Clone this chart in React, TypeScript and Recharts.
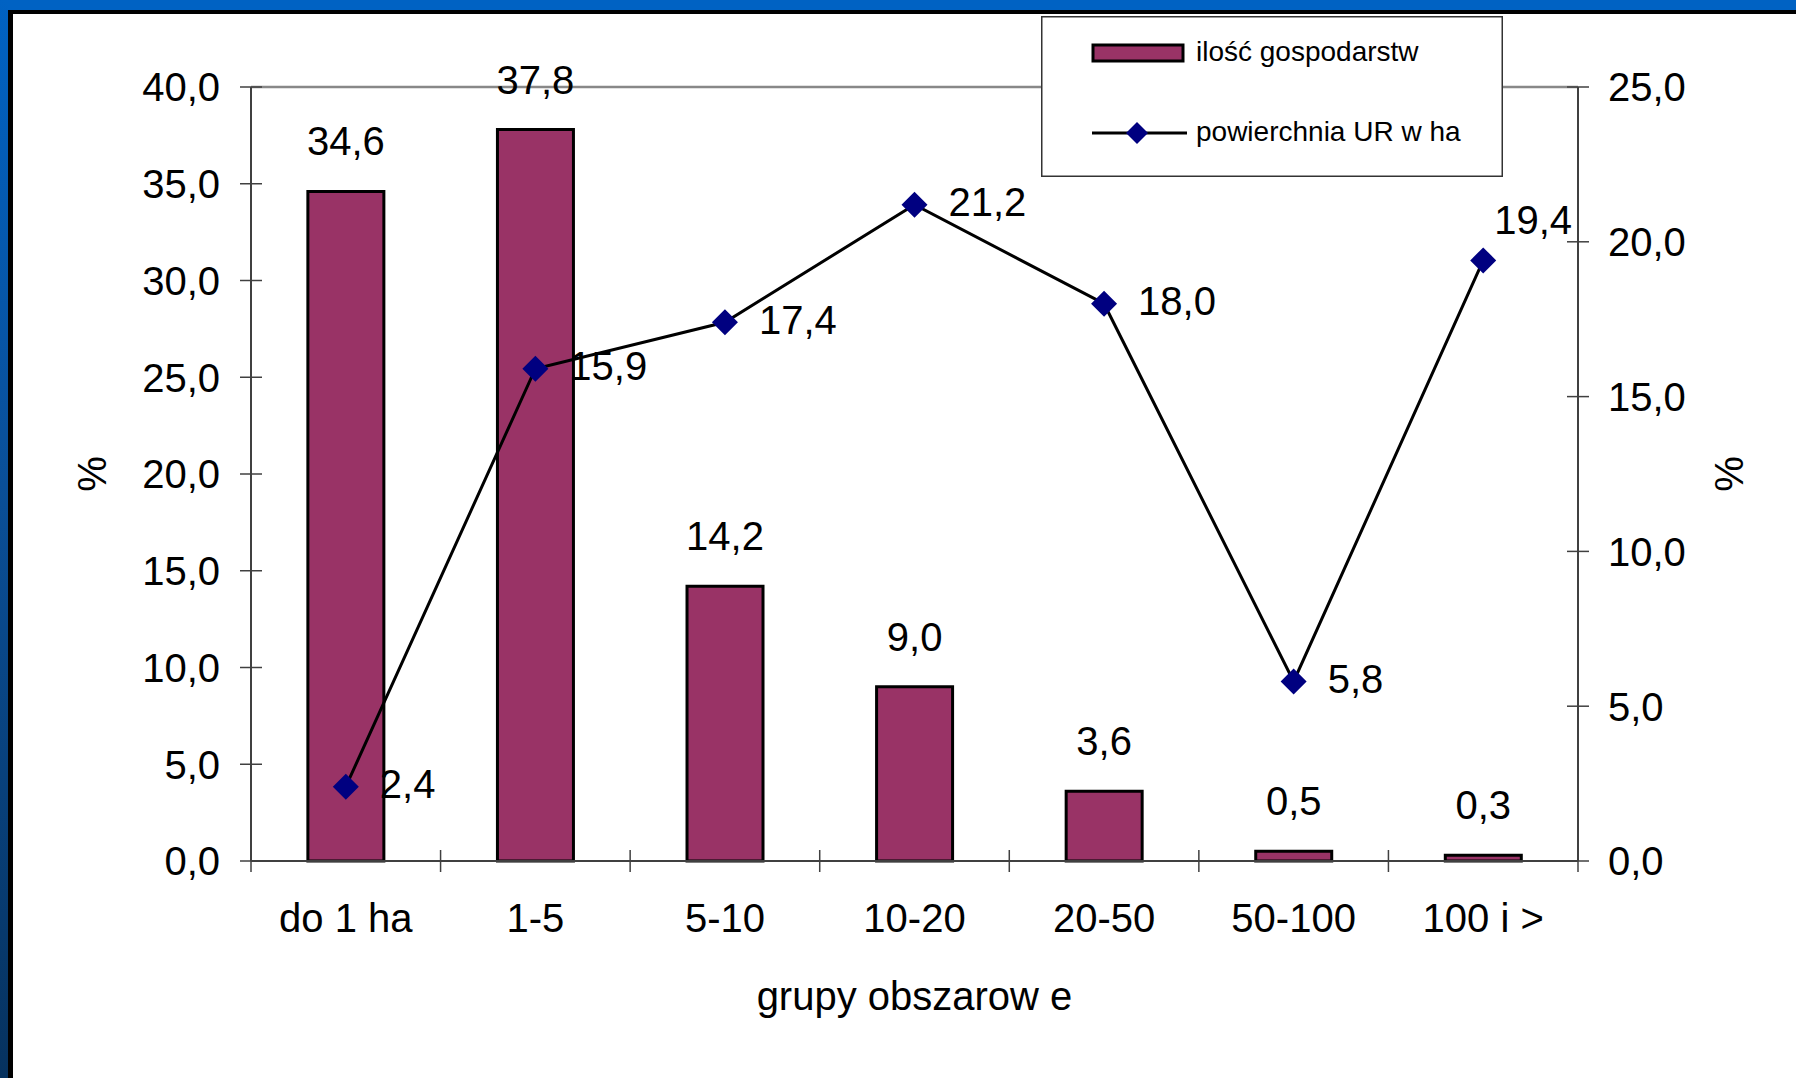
import React from 'react'
import { ComposedChart, Bar, Line, XAxis, YAxis, Legend, LabelList, ReferenceLine, Label } from 'recharts'

const categories = ['do 1 ha', '1-5', '5-10', '10-20', '20-50', '50-100', '100 i >']
const farmsShare = [34.6, 37.8, 14.2, 9.0, 3.6, 0.5, 0.3]
const areaShare = [2.4, 15.9, 17.4, 21.2, 18.0, 5.8, 19.4]
const leftTicks = [0, 5, 10, 15, 20, 25, 30, 35, 40]
const rightTicks = [0, 5, 10, 15, 20, 25]

const data = categories.map((name, i) => ({ name, farms: farmsShare[i], area: areaShare[i] }))

const FONT = '"Liberation Sans", Arial, sans-serif'
const BAR_FILL = '#993366'
const MARKER = '#000080'
const AXIS = '#404040'

const fmt = (v: number) => Number(v).toFixed(1).replace('.', ',')

const diamondPath = (cx: number, cy: number, r: number) =>
  `M${cx},${cy - r}L${cx + r},${cy}L${cx},${cy + r}L${cx - r},${cy}Z`

const LeftTick = (props: any) => {
  const { x, y, payload } = props
  return (
    <g>
      <line x1={x - 11} x2={x + 11} y1={y} y2={y} stroke={AXIS} strokeWidth={1.5} />
      <text x={x - 31} y={y} dy="0.36em" textAnchor="end" fontSize={40} fontFamily={FONT} fill="#000">
        {fmt(payload.value)}
      </text>
    </g>
  )
}

const RightTick = (props: any) => {
  const { x, y, payload } = props
  return (
    <g>
      <line x1={x - 11} x2={x + 11} y1={y} y2={y} stroke={AXIS} strokeWidth={1.5} />
      <text x={x + 30} y={y} dy="0.36em" textAnchor="start" fontSize={40} fontFamily={FONT} fill="#000">
        {fmt(payload.value)}
      </text>
    </g>
  )
}

// category ticks: label in the middle, tick marks on the band edges
const CatTick = (props: any) => {
  const { x, y, payload, index } = props
  const half = payload.offset ?? 0
  return (
    <g>
      <line x1={x - half} x2={x - half} y1={y - 11} y2={y + 11} stroke={AXIS} strokeWidth={1.5} />
      {index === categories.length - 1 && (
        <line x1={x + half} x2={x + half} y1={y - 11} y2={y + 11} stroke={AXIS} strokeWidth={1.5} />
      )}
      <text x={x} y={y + 71} textAnchor="middle" fontSize={40} fontFamily={FONT} fill="#000">
        {payload.value}
      </text>
    </g>
  )
}

const Diamond = (props: any) => {
  const { cx, cy } = props
  if (cx == null || cy == null) return null
  return <path d={diamondPath(cx, cy, 13)} fill={MARKER} />
}

const BarLabel = (props: any) => {
  const vb = props.viewBox || props
  return (
    <text x={vb.x + vb.width / 2} y={vb.y - 36} textAnchor="middle" fontSize={40} fontFamily={FONT} fill="#000">
      {fmt(props.value)}
    </text>
  )
}

const LineLabel = (props: any) => {
  const vb = props.viewBox || props
  const last = props.index === areaShare.length - 1
  return (
    <text
      x={last ? vb.x + 11 : vb.x + 34}
      y={last ? vb.y - 41 : vb.y - 3}
      dy="0.36em"
      textAnchor="start"
      fontSize={40}
      fontFamily={FONT}
      fill="#000"
    >
      {fmt(props.value)}
    </text>
  )
}

const axisTitle = (dx: number) => (props: any) => {
  const vb = props.viewBox
  const x = vb.x + dx
  const y = vb.y + vb.height / 2
  return (
    <text x={x} y={y} dy="0.36em" textAnchor="middle" transform={`rotate(-90, ${x}, ${y})`} fontSize={40} fontFamily={FONT} fill="#000">
      %
    </text>
  )
}

const xTitle = (props: any) => {
  const vb = props.viewBox
  return (
    <text x={vb.x + vb.width / 2} y={vb.y + 149} textAnchor="middle" fontSize={40} fontFamily={FONT} fill="#000">
      grupy obszarow e
    </text>
  )
}

const LegendBox = (props: any) => {
  const items = props.payload || []
  return (
    <svg width={462} height={161} style={{ display: 'block' }}>
      <rect x={0.75} y={0.75} width={460.5} height={159.5} fill="#fff" stroke="#333" strokeWidth={1.5} />
      {items.map((entry: any, i: number) => {
        const cy = i === 0 ? 37 : 117
        return (
          <g key={i}>
            {entry.type === 'rect' ? (
              <rect x={52} y={cy - 8} width={90} height={16} fill={BAR_FILL} stroke="#000" strokeWidth={3} />
            ) : (
              <g>
                <line x1={51} x2={146} y1={cy} y2={cy} stroke="#000" strokeWidth={3} />
                <path d={diamondPath(96, cy, 11)} fill={MARKER} />
              </g>
            )}
            <text x={155} y={cy - 2} dy="0.36em" fontSize={28} fontFamily={FONT} fill="#000">
              {entry.value}
            </text>
          </g>
        )
      })}
    </svg>
  )
}

export default function App() {
  return (
    <div style={{ position: 'absolute', left: 0, top: 0, width: 1796, height: 1078, background: '#fff', overflow: 'hidden' }}>
      <ComposedChart
        width={1796}
        height={1078}
        data={data}
        margin={{ top: 87, right: 0, bottom: 0, left: 0 }}
        barCategoryGap="30%"
      >
        <XAxis
          dataKey="name"
          xAxisId="cat"
          height={217}
          interval={0}
          tickSize={0}
          tickMargin={0}
          tickLine={false}
          axisLine={{ stroke: AXIS, strokeWidth: 2 }}
          tick={<CatTick />}
        >
          <Label content={xTitle} />
        </XAxis>
        <YAxis
          yAxisId="left"
          width={251}
          domain={[0, 40]}
          ticks={leftTicks}
          interval={0}
          tickSize={0}
          tickMargin={0}
          tickLine={false}
          axisLine={{ stroke: AXIS, strokeWidth: 2 }}
          tick={<LeftTick />}
        >
          <Label content={axisTitle(92)} />
        </YAxis>
        <YAxis
          yAxisId="right"
          orientation="right"
          width={218}
          domain={[0, 25]}
          ticks={rightTicks}
          interval={0}
          tickSize={0}
          tickMargin={0}
          tickLine={false}
          axisLine={{ stroke: AXIS, strokeWidth: 2 }}
          tick={<RightTick />}
        >
          <Label content={axisTitle(151)} />
        </YAxis>
        <ReferenceLine yAxisId="left" xAxisId="cat" y={40} stroke="#888" strokeWidth={2.5} />
        <Bar
          xAxisId="cat"
          yAxisId="left"
          dataKey="farms"
          name="ilość gospodarstw"
          fill={BAR_FILL}
          stroke="#000"
          strokeWidth={3}
          legendType="rect"
          isAnimationActive={false}
        >
          <LabelList dataKey="farms" content={<BarLabel />} />
        </Bar>
        <Line
          xAxisId="cat"
          yAxisId="right"
          type="linear"
          dataKey="area"
          name="powierchnia UR w ha"
          stroke="#000"
          strokeWidth={3}
          dot={<Diamond />}
          activeDot={false}
          legendType="line"
          isAnimationActive={false}
        >
          <LabelList dataKey="area" content={<LineLabel />} />
        </Line>
        <Legend
          layout="vertical"
          align="center"
          verticalAlign="middle"
          content={<LegendBox />}
          wrapperStyle={{ left: 1041, top: 16, width: 462, height: 161 }}
        />
      </ComposedChart>
      {/* slide frame */}
      <div style={{ position: 'absolute', left: 0, top: 0, width: 1796, height: 10, background: '#0062c3' }} />
      <div style={{ position: 'absolute', left: 8, top: 10, width: 1788, height: 4, background: '#000' }} />
      <div
        style={{
          position: 'absolute',
          left: 0,
          top: 0,
          width: 8,
          height: 1078,
          background: 'linear-gradient(#0062c3, #0a4f98 45%, #06325f)',
        }}
      />
      <div style={{ position: 'absolute', left: 8, top: 10, width: 5, height: 1068, background: '#000' }} />
    </div>
  )
}
